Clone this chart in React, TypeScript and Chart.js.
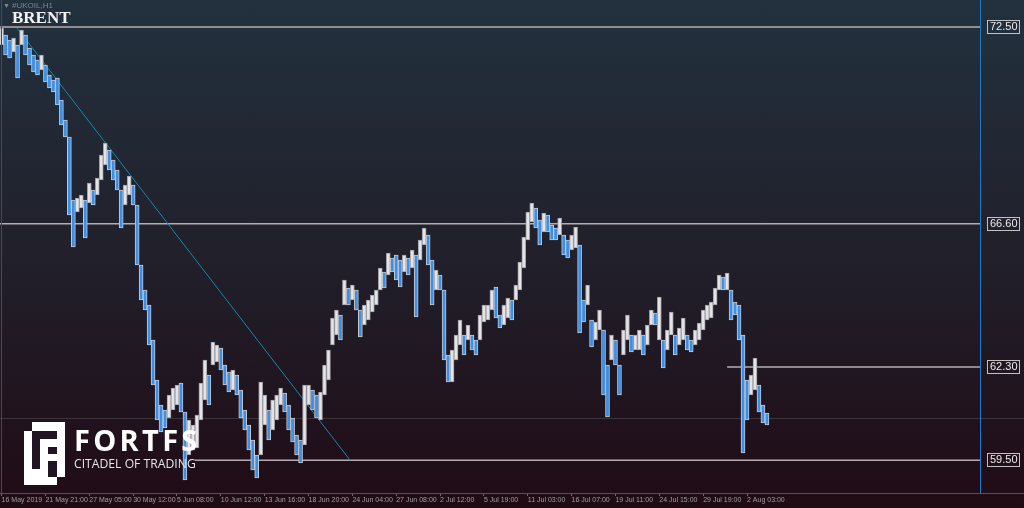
import React, { useEffect, useRef } from "react";
import { Chart, registerables } from "chart.js";

Chart.register(...registerables);

const symbolName = "#UKOIL,H1";
const chartTitle = "BRENT";
const brandName = "FORTFS";
const brandTagline = "CITADEL OF TRADING";

const timeLabels = [
  "16 May 2019", "21 May 21:00", "27 May 05:00", "30 May 12:00", "5 Jun 08:00",
  "10 Jun 12:00", "13 Jun 16:00", "18 Jun 20:00", "24 Jun 04:00", "27 Jun 08:00",
  "2 Jul 12:00", "5 Jul 19:00", "11 Jul 03:00", "16 Jul 07:00", "19 Jul 11:00",
  "24 Jul 15:00", "29 Jul 19:00", "2 Aug 03:00",
];
const timeLabelBars = [0, 11, 22, 33, 44, 55, 66, 77, 88, 99, 110, 121, 132, 143, 154, 165, 176, 187];

const barHighs = [
  72.47, 72.26, 72.11, 72.17, 71.96, 72.41, 72.26, 71.87, 71.66, 71.51,
  71.66, 71.36, 71.06, 70.91, 70.97, 70.31, 69.71, 69.20, 67.31, 67.37,
  67.46, 67.31, 67.82, 67.61, 67.97, 68.66, 69.02, 68.81, 68.51, 68.21,
  67.61, 67.76, 68.03, 67.76, 67.16, 65.36, 64.61, 64.16, 63.11, 61.91,
  61.16, 61.01, 61.46, 61.67, 61.76, 61.82, 60.95, 60.71, 60.56, 60.86,
  61.82, 62.51, 62.06, 63.05, 62.96, 62.87, 62.36, 62.15, 62.21, 62.06,
  61.61, 61.01, 60.56, 60.11, 59.66, 61.85, 61.46, 61.01, 61.31, 61.46,
  61.67, 61.52, 61.16, 60.77, 60.26, 60.11, 61.76, 61.76, 61.61, 61.46,
  61.55, 62.36, 62.81, 63.77, 64.01, 63.86, 64.91, 64.67, 64.76, 64.61,
  64.01, 64.16, 64.31, 64.46, 64.61, 65.27, 65.15, 65.72, 65.57, 65.66,
  65.51, 65.66, 65.57, 65.81, 65.66, 66.11, 66.47, 66.26, 65.51, 65.21,
  65.06, 64.61, 62.66, 62.81, 63.26, 63.71, 63.26, 63.56, 63.26, 63.11,
  63.86, 64.16, 64.16, 64.61, 64.70, 63.86, 64.16, 64.37, 64.31, 64.76,
  65.45, 66.20, 66.95, 67.22, 67.07, 66.71, 66.92, 66.86, 66.56, 66.47,
  66.77, 66.26, 66.11, 66.26, 66.50, 65.96, 64.31, 64.76, 63.71, 63.65,
  64.01, 63.41, 62.36, 63.26, 63.11, 62.36, 63.41, 63.86, 63.26, 63.26,
  63.41, 63.26, 63.56, 64.01, 63.92, 64.40, 63.11, 63.41, 63.95, 63.26,
  63.47, 63.77, 63.26, 63.11, 63.41, 63.62, 64.01, 64.16, 64.25, 64.67,
  65.06, 65.00, 65.12, 64.61, 64.25, 64.16, 63.26, 61.91, 62.06, 62.57,
  61.76, 61.16, 60.92,
];

const barLows = [
  71.96, 71.66, 71.57, 71.75, 70.97, 71.96, 71.66, 71.36, 71.15, 71.06,
  71.21, 70.85, 70.67, 70.55, 70.16, 69.56, 69.20, 66.86, 65.90, 66.95,
  67.07, 66.17, 67.22, 67.16, 67.46, 67.91, 68.36, 68.21, 67.91, 67.61,
  66.47, 67.16, 67.46, 67.16, 65.36, 64.31, 64.01, 62.96, 61.76, 60.71,
  60.35, 60.47, 60.77, 61.01, 61.16, 60.95, 58.91, 59.66, 59.81, 59.87,
  60.71, 61.31, 61.16, 62.36, 62.45, 62.21, 61.76, 61.55, 61.61, 61.46,
  60.77, 60.41, 59.81, 59.21, 58.97, 59.66, 60.56, 60.11, 60.41, 60.71,
  61.16, 60.95, 60.41, 60.05, 59.66, 59.42, 59.96, 61.16, 61.01, 60.77,
  60.71, 61.46, 61.91, 62.96, 63.26, 63.11, 64.16, 64.16, 64.31, 64.01,
  63.20, 63.56, 63.71, 63.95, 64.16, 64.61, 64.67, 65.06, 65.15, 64.91,
  64.70, 65.15, 65.06, 65.27, 63.80, 65.51, 65.96, 65.36, 64.16, 64.61,
  64.61, 62.51, 61.85, 61.85, 62.51, 62.96, 62.66, 63.11, 62.81, 62.66,
  63.11, 63.65, 63.71, 64.01, 63.77, 63.47, 63.56, 63.77, 63.71, 64.31,
  64.61, 65.27, 66.11, 66.65, 66.47, 65.96, 66.35, 66.35, 66.11, 66.11,
  66.26, 65.66, 65.57, 65.81, 65.87, 63.32, 63.65, 64.16, 62.90, 63.11,
  63.41, 61.46, 60.80, 62.51, 62.36, 61.46, 62.66, 63.11, 62.75, 62.81,
  62.81, 62.66, 62.96, 63.56, 63.56, 63.11, 62.27, 62.81, 63.26, 62.66,
  62.96, 63.11, 62.81, 62.75, 62.96, 63.11, 63.41, 63.71, 63.77, 64.16,
  64.61, 64.61, 64.61, 63.71, 63.86, 63.11, 59.72, 60.71, 61.46, 61.61,
  60.95, 60.62, 60.56,
];

const levelPrices = [72.5, 66.6, 62.3, 59.5];
const levelStartBars = [-0.4, -0.4, 182, 48.5];
const trendBars = [3.86, 87.45];
const trendPrices = [72.47, 59.5];
const bidPrice = 60.77;

const X_MIN = -0.4;
const X_MAX = 245.7;
const Y_MIN = 58.52;
const Y_MAX = 73.31;

const BULL = "#e4e4e6";
const BULL_EDGE = "#9c9ca4";
const BEAR = "#3b8fe6";
const BEAR_EDGE = "#c9c9ce";
const LEVEL_COLOR = "#b6acb2";
const LABEL_FONT = "11px 'Liberation Sans', Arial, sans-serif";

const chromePlugin = {
  id: "chrome",
  beforeDatasetsDraw(chart: any) {
    const { ctx, width } = chart;
    const y = Math.round(chart.scales.y.getPixelForValue(bidPrice)) + 0.5;
    ctx.save();
    ctx.strokeStyle = "#3b3439";
    ctx.lineWidth = 1;
    ctx.beginPath();
    ctx.moveTo(0, y);
    ctx.lineTo(width, y);
    ctx.stroke();
    ctx.restore();
  },
  afterDraw(chart: any) {
    const { ctx, width, chartArea } = chart;
    const yScale = chart.scales.y;
    ctx.save();
    const by = Math.round(chartArea.bottom) + 0.5;
    ctx.strokeStyle = "#55525a";
    ctx.lineWidth = 1;
    ctx.beginPath();
    ctx.moveTo(0, by);
    ctx.lineTo(width, by);
    ctx.stroke();
    ctx.strokeStyle = "#4a4a52";
    ctx.beginPath();
    ctx.moveTo(1.5, 0);
    ctx.lineTo(1.5, chartArea.bottom);
    ctx.stroke();
    const rx = Math.round(chartArea.right) - 0.5;
    ctx.strokeStyle = "#1f78c8";
    ctx.beginPath();
    ctx.moveTo(rx, 0);
    ctx.lineTo(rx, chartArea.bottom);
    ctx.stroke();
    ctx.font = LABEL_FONT;
    ctx.strokeStyle = "#c4c0c4";
    levelPrices.forEach((p) => {
      const y = Math.round(yScale.getPixelForValue(p));
      const w = ctx.measureText(p.toFixed(2)).width;
      ctx.strokeRect(Math.round(chartArea.right) + 6.5, y - 6.5, Math.ceil(w) + 4, 13);
    });
    ctx.restore();
  },
};

export default function App() {
  const canvasRef = useRef<HTMLCanvasElement | null>(null);

  useEffect(() => {
    const canvas = canvasRef.current;
    if (!canvas) return;

    const candleData = barHighs.map((h, i) => ({ x: i, y: [barLows[i], h] }));
    const isBear = barHighs.map((h, i) => {
      if (i === 0) return false;
      const mid = (h + barLows[i]) / 2;
      const prev = (barHighs[i - 1] + barLows[i - 1]) / 2;
      return mid < prev;
    });

    const levelSets = levelPrices.map((p, k) => ({
      type: "line" as const,
      data: [
        { x: levelStartBars[k], y: p },
        { x: X_MAX, y: p },
      ],
      borderColor: LEVEL_COLOR,
      borderWidth: 1.5,
      pointRadius: 0,
      order: 2,
    }));

    const chart = new Chart(canvas, {
      type: "bar",
      data: {
        datasets: [
          {
            type: "bar",
            data: candleData as any,
            backgroundColor: isBear.map((b) => (b ? BEAR : BULL)),
            borderColor: isBear.map((b) => (b ? BEAR_EDGE : BULL_EDGE)),
            borderWidth: 1,
            borderSkipped: false,
            barThickness: 4,
            grouped: false,
            order: 0,
          } as any,
          ...levelSets,
          {
            type: "line",
            data: [
              { x: trendBars[0], y: trendPrices[0] },
              { x: trendBars[1], y: trendPrices[1] },
            ],
            borderColor: "#1689a8",
            borderWidth: 1,
            pointRadius: 0,
            order: 1,
          } as any,
        ],
      },
      options: {
        responsive: false,
        animation: false,
        events: [],
        layout: { padding: 0 },
        plugins: { legend: { display: false }, tooltip: { enabled: false }, title: { display: false } },
        scales: {
          x: {
            type: "linear",
            min: X_MIN,
            max: X_MAX,
            offset: false,
            afterBuildTicks: (scale: any) => {
              scale.ticks = timeLabelBars.map((v) => ({ value: v }));
            },
            afterFit: (scale: any) => {
              scale.height = 15;
              scale.paddingLeft = 0;
              scale.paddingRight = 0;
            },
            ticks: {
              autoSkip: false,
              maxRotation: 0,
              minRotation: 0,
              align: "start",
              padding: 0,
              color: "#a09ea4",
              font: { family: "'Liberation Sans', Arial, sans-serif", size: 7 },
              callback: (_v: any, idx: number) => timeLabels[idx],
            },
            grid: {
              drawOnChartArea: false,
              drawTicks: true,
              tickLength: 3,
              color: "#6c6870",
              offset: false,
            },
            border: { display: false },
          },
          y: {
            type: "linear",
            position: "right",
            min: Y_MIN,
            max: Y_MAX,
            afterBuildTicks: (scale: any) => {
              scale.ticks = levelPrices.map((v) => ({ value: v }));
            },
            afterFit: (scale: any) => {
              scale.width = 43;
              scale.paddingTop = 0;
              scale.paddingBottom = 0;
            },
            ticks: {
              autoSkip: false,
              padding: 9,
              color: "#ecebed",
              font: { family: "'Liberation Sans', Arial, sans-serif", size: 11 },
              callback: (v: any) => Number(v).toFixed(2),
            },
            grid: { display: false, drawTicks: false },
            border: { display: false },
          },
        },
      } as any,
      plugins: [chromePlugin],
    });

    return () => chart.destroy();
  }, []);

  return (
    <div
      style={{
        position: "fixed",
        left: 0,
        top: 0,
        width: 1024,
        height: 508,
        overflow: "hidden",
        background: "linear-gradient(to bottom, #22313e 0%, #21202b 50%, #200b15 100%)",
      }}
    >
      <canvas
        ref={canvasRef}
        width={1024}
        height={508}
        style={{ position: "absolute", left: 0, top: 0, width: 1024, height: 508 }}
      />
      <svg
        width={42}
        height={63}
        viewBox="0 0 42 63"
        style={{ position: "absolute", left: 24, top: 422 }}
      >
        <polygon points="8,0 41,0 41,55 33,55 33,63 0,63 0,9 8,9" fill="#ffffff" />
        <rect x={8} y={9} width={25} height={46} fill="#221422" />
        <rect x={16} y={17} width={17} height={8} fill="#ffffff" />
        <rect x={16} y={17} width={8} height={30} fill="#ffffff" />
        <rect x={16} y={32} width={17} height={7} fill="#ffffff" />
        <rect x={8} y={47} width={16} height={8} fill="#ffffff" />
      </svg>
      <div
        style={{
          position: "absolute",
          left: 74,
          top: 423,
          fontFamily: "'Open Sans', 'Liberation Sans', sans-serif",
          fontWeight: 700,
          fontSize: 29,
          lineHeight: "34px",
          letterSpacing: 3.3,
          whiteSpace: "nowrap",
          color: "#ffffff",
        }}
      >
        {brandName}
      </div>
      <div
        style={{
          position: "absolute",
          left: 74,
          top: 456,
          fontFamily: "'Open Sans', 'Liberation Sans', sans-serif",
          fontSize: 12.2,
          lineHeight: "16px",
          whiteSpace: "nowrap",
          color: "#e6e4e8",
        }}
      >
        {brandTagline}
      </div>
      <div
        style={{
          position: "absolute",
          left: 3,
          top: 1,
          fontFamily: "'Liberation Sans', Arial, sans-serif",
          fontSize: 7,
          lineHeight: "10px",
          color: "#7d8590",
        }}
      >
        ▼
      </div>
      <div
        style={{
          position: "absolute",
          left: 12,
          top: 1,
          fontFamily: "'Liberation Sans', Arial, sans-serif",
          fontSize: 8,
          lineHeight: "10px",
          color: "#7d8590",
        }}
      >
        {symbolName}
      </div>
      <div
        style={{
          position: "absolute",
          left: 12,
          top: 9,
          fontFamily: "'Liberation Serif', 'Times New Roman', serif",
          fontWeight: 700,
          fontSize: 17,
          lineHeight: "17px",
          color: "#f2f2f2",
        }}
      >
        {chartTitle}
      </div>
    </div>
  );
}
